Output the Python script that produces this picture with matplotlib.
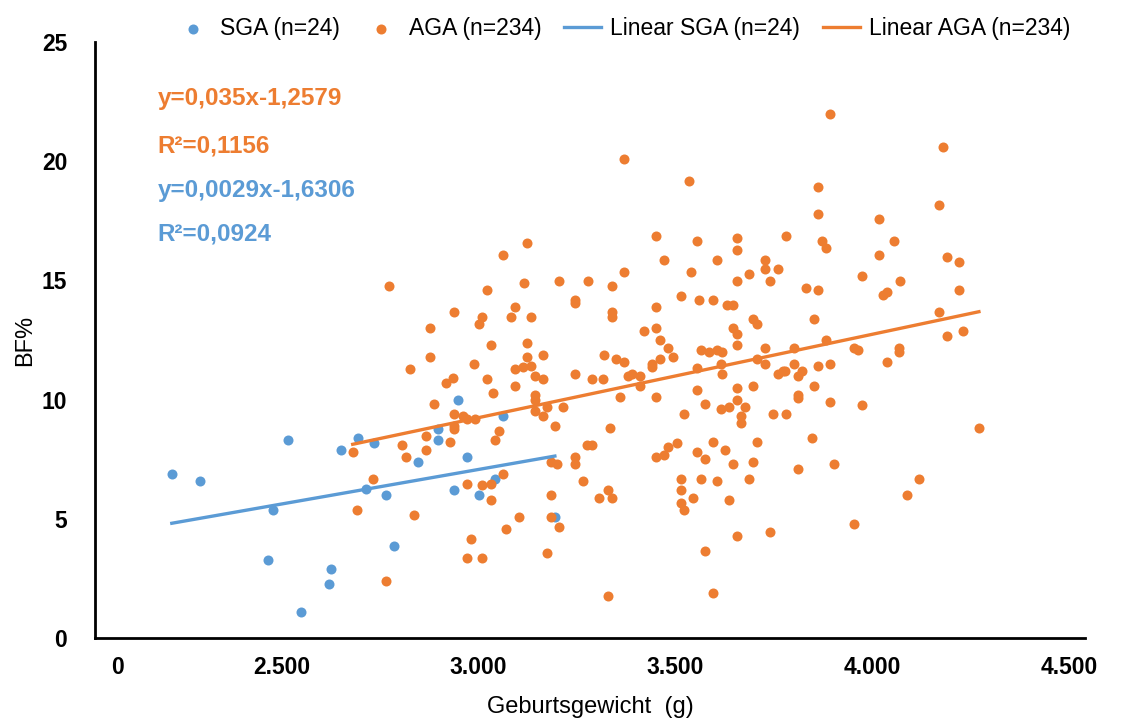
import numpy as np
import matplotlib
matplotlib.use("Agg")
import matplotlib.pyplot as plt

plt.rcParams['font.family'] = ['Liberation Sans', 'DejaVu Sans']

# --- data ---
sga_weight = [2222, 2293, 2517, 2478, 2466, 2626, 2621, 2549, 2651, 2694, 2735, 2846,
              2714, 2765, 2786, 2948, 2897, 2897, 3062, 2971, 2938, 3001, 3042, 3194]
sga_bf = [6.86, 6.57, 8.29, 5.39, 3.28, 2.90, 2.27, 1.09, 7.87, 8.38, 8.17, 7.37,
          6.27, 5.98, 3.87, 9.97, 8.75, 8.29, 9.30, 7.58, 6.19, 5.98, 6.69, 5.09]

aga_weight = [
    3369, 3534, 3450, 3555, 3656, 3656, 3471, 3605, 3123, 3062, 3369, 3539, 3687, 3656,
    3204, 3278, 3115, 3339, 3022, 3514, 3560, 3595, 3631, 3646, 3245, 3245, 2938, 3093,
    3082, 3133, 3009, 3001, 3339, 3339, 3450, 2877, 2877, 3032, 3123, 3123, 3164, 2989,
    3450, 3420, 3461, 3481, 3494, 3461, 3440, 3318, 3349, 3369, 3646, 3656, 3656, 3697,
    3707, 3565, 3585, 3605, 3618, 3615, 3555, 3707, 3113, 3133, 3093, 3143, 3164, 2918,
    2935, 3022, 3037, 3093, 3245, 3288, 3316, 3379, 3390, 3410, 3410, 3618, 3697, 2887,
    3143, 3143, 3143, 3164, 3174, 3214, 3194, 3359, 3450, 3555, 3575, 3656, 3656, 3676,
    3615, 3636, 3666, 3666, 3522, 2938, 2961, 2971, 2991, 2938, 2938, 2867, 2867, 2928,
    3052, 3042, 3334, 3275, 3288, 3245, 3245, 3184, 3199, 3265, 2971, 3009, 3032, 3062,
    3032, 3184, 3306, 3329, 3339, 3184, 3204, 3103, 3070, 2981, 2971, 3009, 3174, 3329,
    3450, 3471, 3481, 3504, 3555, 3575, 3595, 3626, 3646, 3697, 3707, 3514, 3565, 3605,
    3687, 3514, 3544, 3514, 3522, 3636, 3656, 3575, 3595, 2826, 2681, 2806, 2816, 2732,
    2692, 2836, 2765, 2773, 3892, 4179, 3862, 3862, 4169, 3780, 3872, 3882, 4016, 4055,
    4016, 3727, 3727, 3760, 3740, 3973, 4070, 3831, 3862, 4026, 4036, 4189, 4220, 4220,
    4169, 4189, 4230, 3851, 3727, 3801, 3882, 3953, 3963, 4067, 4067, 4036, 3727, 3801,
    3862, 3892, 3760, 3773, 3778, 3811, 3821, 3851, 3811, 3811, 3892, 3973, 3747, 3780,
    4270, 3846, 3811, 3902, 4118, 4088, 3953, 3740, 3440]
aga_bf = [
    20.08, 19.19, 16.88, 16.67, 16.79, 16.29, 15.87, 15.87, 16.58, 16.08, 15.36, 15.36, 15.28, 14.98,
    14.98, 14.98, 14.90, 14.77, 14.61, 14.35, 14.18, 14.18, 13.97, 13.97, 14.18, 14.06, 13.68, 13.89,
    13.47, 13.47, 13.47, 13.17, 13.68, 13.47, 13.89, 13.01, 11.79, 12.29, 12.37, 11.79, 11.87, 11.49,
    13.01, 12.88, 12.50, 12.16, 11.79, 11.70, 11.49, 11.87, 11.70, 11.57, 13.01, 12.75, 12.29, 13.38,
    13.17, 12.08, 12.00, 12.08, 12.00, 11.49, 11.32, 11.70, 11.36, 11.41, 11.28, 10.99, 10.86, 10.69,
    10.90, 10.86, 10.27, 10.56, 11.07, 10.86, 10.86, 10.99, 11.07, 10.99, 10.56, 11.07, 10.56, 9.81,
    10.19, 9.98, 9.51, 9.30, 9.68, 9.68, 8.88, 10.10, 10.10, 10.40, 9.81, 10.48, 9.98, 9.68,
    9.60, 9.68, 9.30, 9.01, 9.39, 9.39, 9.30, 9.18, 9.18, 8.88, 8.75, 8.46, 7.87, 8.21,
    8.67, 8.29, 8.80, 8.08, 8.08, 7.58, 7.28, 7.37, 7.28, 6.57, 6.48, 6.40, 6.48, 6.86,
    5.81, 5.98, 5.89, 6.19, 5.89, 5.09, 4.67, 5.09, 4.59, 4.17, 3.37, 3.37, 3.58, 1.77,
    7.58, 7.66, 8.00, 8.17, 7.79, 7.49, 8.21, 7.87, 7.28, 7.37, 8.21, 6.69, 6.69, 6.57,
    6.69, 6.19, 5.89, 5.68, 5.39, 5.81, 4.29, 3.66, 1.89, 11.28, 7.79, 8.08, 7.58, 6.69,
    5.39, 5.18, 2.40, 14.77, 21.97, 20.58, 18.90, 17.80, 18.18, 16.88, 16.67, 16.37, 17.59, 16.67,
    16.08, 15.87, 15.49, 15.49, 14.98, 15.19, 14.98, 14.69, 14.61, 14.39, 14.52, 15.99, 15.78, 14.61,
    13.68, 12.67, 12.88, 13.38, 12.16, 12.16, 12.50, 12.16, 12.08, 12.16, 12.00, 11.57, 11.49, 11.49,
    11.41, 11.49, 11.07, 11.20, 11.20, 10.99, 11.20, 10.56, 10.19, 10.06, 9.89, 9.76, 9.39, 9.39,
    8.80, 8.38, 7.07, 7.28, 6.69, 5.98, 4.80, 4.46, 11.36]

# trendline coefficients (slope per gram, intercept)
sga_fit = (0.0029, -1.6306)
aga_fit = (0.0035, -1.2579)

x_ticks = [2085, 2500, 3000, 3500, 4000, 4500]
x_ticklabels = ["0", "2.500", "3.000", "3.500", "4.000", "4.500"]
y_ticks = [0, 5, 10, 15, 20, 25]

blue = "#5B9BD5"
orange = "#ED7D31"

fig = plt.figure(figsize=(11.25, 7.18), dpi=100)
ax = fig.add_axes([0.0844, 0.1114, 0.88, 0.8301])

ax.scatter(sga_weight, sga_bf, s=52, color=blue, linewidths=0, label="SGA (n=24)", zorder=3)
ax.scatter(aga_weight, aga_bf, s=52, color=orange, linewidths=0, label="AGA (n=234)", zorder=3)

xs = np.array([min(sga_weight), max(sga_weight)])
ax.plot(xs, sga_fit[0] * xs + sga_fit[1], color=blue, lw=2.4, label="Linear SGA (n=24)", zorder=4)
xa = np.array([min(aga_weight), max(aga_weight)])
ax.plot(xa, aga_fit[0] * xa + aga_fit[1], color=orange, lw=2.4, label="Linear AGA (n=234)", zorder=4)

ax.set_xlim(2027, 4539)
ax.set_ylim(0, 25)
ax.set_xticks(x_ticks)
ax.set_xticklabels(x_ticklabels)
ax.set_yticks(y_ticks)
ax.tick_params(length=0, labelsize=16.5)
ax.tick_params(axis="x", pad=13)
ax.tick_params(axis="y", pad=20)
for lab in ax.get_xticklabels() + ax.get_yticklabels():
    lab.set_fontweight("bold")

for s in ["top", "right"]:
    ax.spines[s].set_visible(False)
for s in ["left", "bottom"]:
    ax.spines[s].set_linewidth(2)
    ax.spines[s].set_color("black")

ax.set_xlabel("Geburtsgewicht  (g)", fontsize=17, labelpad=12)
ax.set_ylabel("BF%", fontsize=17, labelpad=4)

# equations
eq_kw = dict(transform=ax.transAxes, fontsize=17.5, fontweight="bold", ha="left", va="center")
ax.text(0.063, 0.905, "y=0,035x-1,2579", color=orange, **eq_kw)
ax.text(0.063, 0.826, "R²=0,1156", color=orange, **eq_kw)
ax.text(0.063, 0.751, "y=0,0029x-1,6306", color=blue, **eq_kw)
ax.text(0.063, 0.678, "R²=0,0924", color=blue, **eq_kw)

fig.legend(loc="upper center", bbox_to_anchor=(0.553, 1.005), ncol=4, frameon=False,
           fontsize=16.5, handlelength=1.6, handletextpad=0.4, columnspacing=1.0,
           markerscale=1.0, scatterpoints=1)

fig.savefig("out.png", dpi=100)
